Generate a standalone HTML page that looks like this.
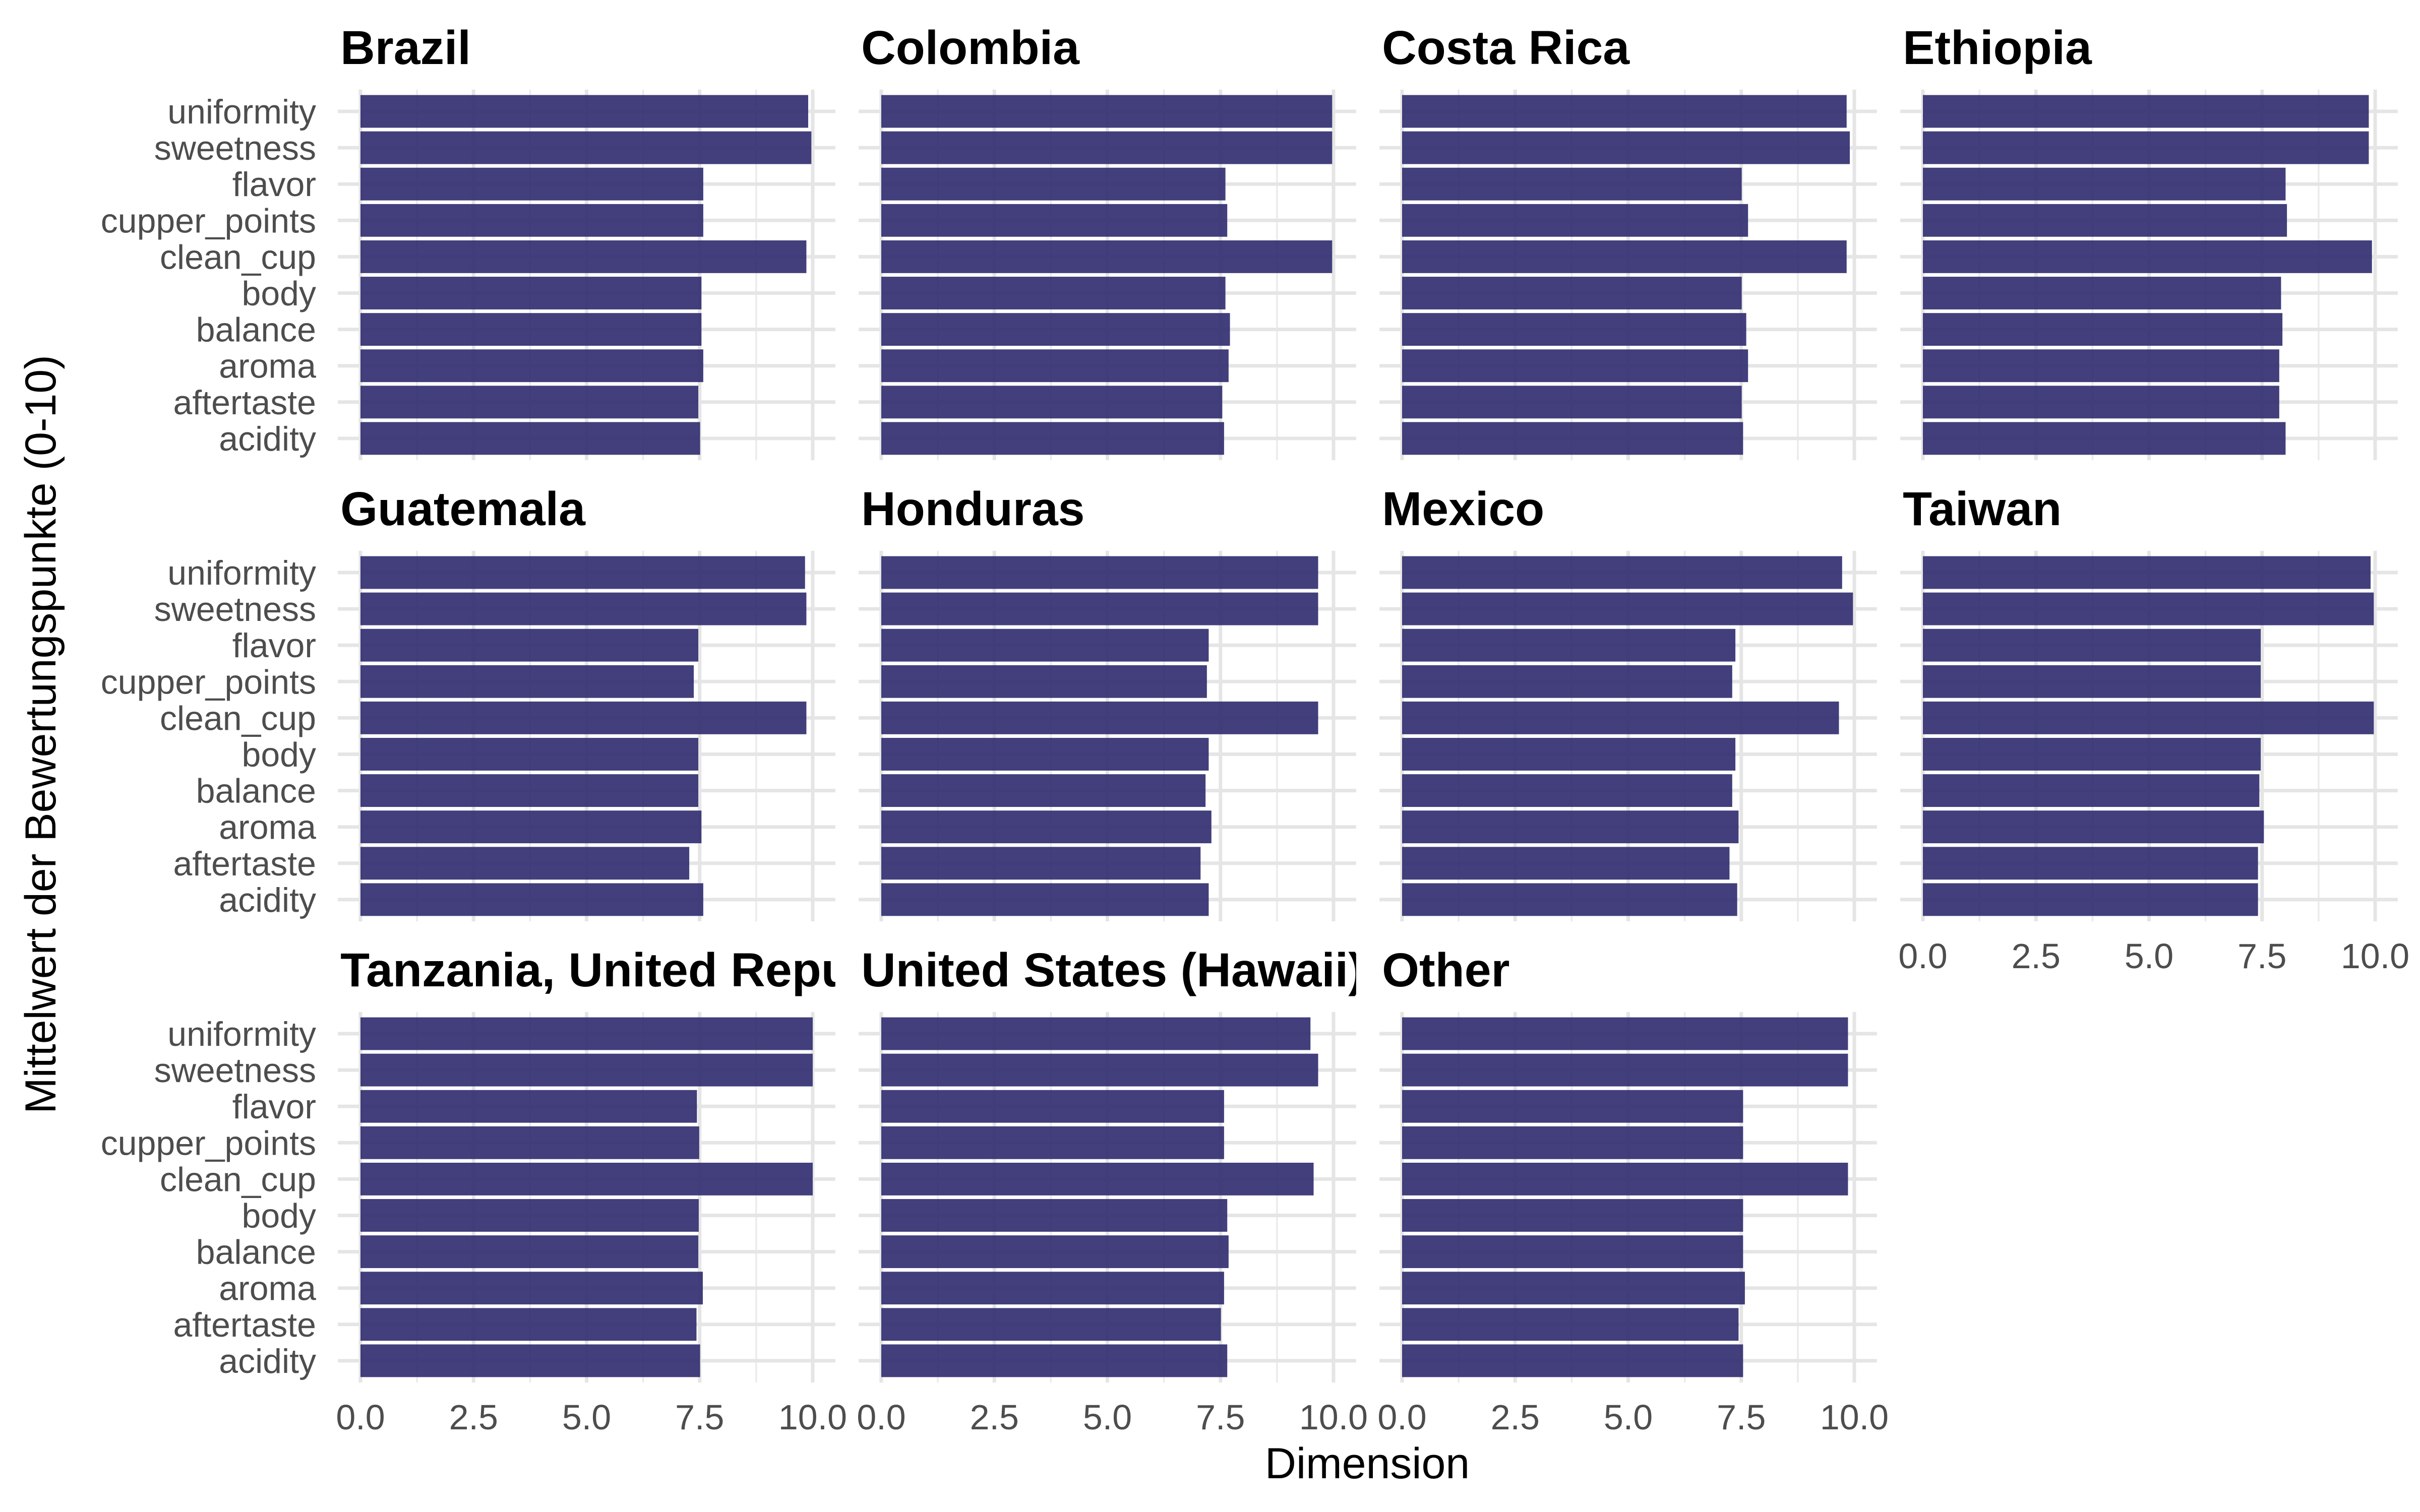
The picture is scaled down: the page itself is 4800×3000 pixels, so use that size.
<!DOCTYPE html>
<html><head><meta charset="utf-8">
<style>
html,body{margin:0;padding:0;background:#fff;}
svg{display:block;font-family:"Liberation Sans",sans-serif;}
</style></head>
<body>
<svg id="chart" width="4800" height="3000" viewBox="0 0 4800 3000" xmlns="http://www.w3.org/2000/svg">
<rect width="4800" height="3000" fill="#fff"/>
<g id="panels"></g>
<text x="2712" y="2933" font-size="86" text-anchor="middle" fill="#000">Dimension</text>
<text transform="translate(110,1457) rotate(-90)" font-size="86" text-anchor="middle" fill="#000">Mittelwert der Bewertungspunkte (0-10)</text>
</svg>
<script>
const categories = ["uniformity","sweetness","flavor","cupper_points","clean_cup","body","balance","aroma","aftertaste","acidity"];
const countries = ["Brazil","Colombia","Costa Rica","Ethiopia","Guatemala","Honduras","Mexico","Taiwan","Tanzania, United Republic Of","United States (Hawaii)","Other"];
const valsBrazil    = [9.90,9.97,7.58,7.58,9.86,7.54,7.54,7.58,7.47,7.51];
const valsColombia  = [9.97,9.97,7.61,7.65,9.97,7.61,7.71,7.68,7.54,7.58];
const valsCostaRica = [9.83,9.90,7.51,7.65,9.83,7.51,7.61,7.65,7.51,7.54];
const valsEthiopia  = [9.86,9.86,8.02,8.05,9.93,7.92,7.95,7.88,7.88,8.02];
const valsGuatemala = [9.83,9.86,7.47,7.37,9.86,7.47,7.47,7.54,7.27,7.58];
const valsHonduras  = [9.66,9.66,7.24,7.20,9.66,7.24,7.17,7.30,7.06,7.24];
const valsMexico    = [9.73,9.97,7.37,7.30,9.66,7.37,7.30,7.44,7.24,7.41];
const valsTaiwan    = [9.90,9.97,7.47,7.47,9.97,7.47,7.44,7.54,7.41,7.41];
const valsTanzania  = [10.0,10.0,7.44,7.49,10.0,7.48,7.47,7.57,7.43,7.51];
const valsHawaii    = [9.49,9.66,7.58,7.58,9.56,7.65,7.68,7.58,7.51,7.65];
const valsOther     = [9.86,9.86,7.54,7.54,9.86,7.54,7.54,7.58,7.44,7.54];
const xTicks = [0,2.5,5,7.5,10];
const xTickLabels = ["0.0","2.5","5.0","7.5","10.0"];
const series = [valsBrazil,valsColombia,valsCostaRica,valsEthiopia,valsGuatemala,valsHonduras,valsMexico,valsTaiwan,valsTanzania,valsHawaii,valsOther];

const NS="http://www.w3.org/2000/svg";
const root=document.getElementById('panels');
const X0=715, COLW=1033, PXU=89.7, ROWH=915, Y0=221, BAND=72.1;
function mk(tag,attrs,parent){const e=document.createElementNS(NS,tag);for(const k in attrs)e.setAttribute(k,attrs[k]);parent.appendChild(e);return e;}
const defs=mk('defs',{},root);
countries.forEach((name,i)=>{
  const col=i%4,row=Math.floor(i/4);
  const zx=X0+col*COLW;
  const xs=v=>zx+v*PXU;
  const uy=Y0+row*ROWH;
  const ys=k=>uy+k*BAND;
  const left=xs(-0.5),right=xs(10.5);
  const top=ys(0)-0.6*BAND,bot=ys(categories.length-1)+0.6*BAND;
  const g=mk('g',{},root);
  
  
  for(let t=1.25;t<10.5;t+=2.5){
    const l=mk('line',{x1:xs(t),x2:xs(t),y1:top,y2:bot,stroke:'#ebebeb','stroke-width':3.5},g);
    
    
  }
  xTicks.forEach(t=>{
    const l=mk('line',{x1:xs(t),x2:xs(t),y1:top,y2:bot,stroke:'#e5e5e5','stroke-width':7},g);
    
    
  });
  categories.forEach((c,k)=>{
    const l=mk('line',{x1:left,x2:right,y1:ys(k),y2:ys(k),stroke:'#e5e5e5','stroke-width':7},g);
    
    
  });
  const vals=series[i];
  categories.forEach((c,k)=>{
    const r=mk('rect',{x:xs(0),y:ys(k)-0.45*BAND,width:xs(vals[k])-xs(0),height:0.9*BAND,fill:'#2d2a6e','fill-opacity':0.9},g);
    
    
  });
  const cid='clip'+i;
  const cp=mk('clipPath',{id:cid},defs);
  mk('rect',{x:left,y:uy-250,width:right-left,height:200},cp);
  const tt=mk('text',{x:left+5,y:uy-94,'font-size':95,'font-weight':'bold',fill:'#000','clip-path':'url(#'+cid+')'},g);
  tt.textContent=name;
  
  
  if(col===0){
    categories.forEach((c,k)=>{
      const t=mk('text',{x:627,y:ys(k)+24,'font-size':68,'text-anchor':'end',fill:'#4d4d4d'},g);
      t.textContent=c;
      
      
    });
  }
  if(row===2||i===7){
    xTicks.forEach((t,j)=>{
      const tx=mk('text',{x:xs(t),y:ys(9)+136,'font-size':70,'text-anchor':'middle',fill:'#4d4d4d'},g);
      tx.textContent=xTickLabels[j];
      
      
    });
  }
});
</script>
</body></html>
